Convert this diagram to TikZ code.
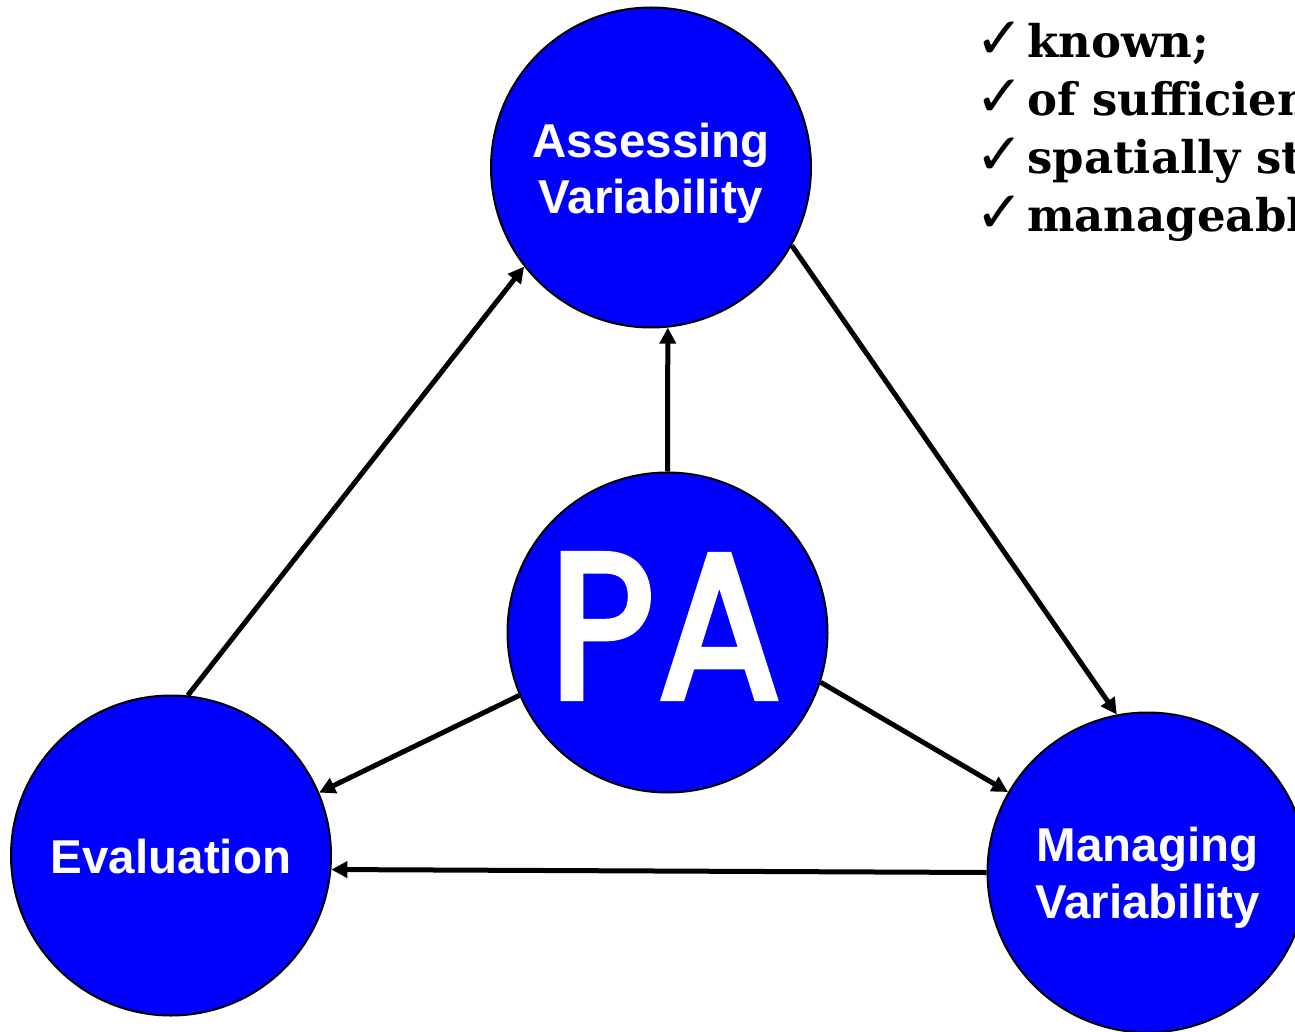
\documentclass[tikz,border=0pt]{standalone}
\usepackage{fontspec}
\usetikzlibrary{arrows.meta}
\setsansfont{Liberation Sans}
\newfontfamily\handfont[FakeBold=3.5]{Poppins}
\newfontfamily\listfont{DejaVu Serif}
\newfontfamily\tickfont{DejaVu Sans}
\definecolor{discblue}{RGB}{0,0,255}

\begin{document}
\begin{tikzpicture}[x=1pt,y=-1pt,
  disc/.style={circle, draw=black, line width=2pt, fill=discblue,
    minimum size=320pt, inner sep=0pt},
  disclabel/.style={text=white, align=center, inner sep=0pt,
    font=\sffamily\bfseries\fontsize{47.5}{56.5}\selectfont},
  flow/.style={line width=5pt,
    -{Triangle[length=16pt,width=16pt]}},
  tick/.style={anchor=base west, inner sep=0pt,
    font=\tickfont\fontsize{58}{58}\selectfont},
  point/.style={anchor=base west, inner sep=0pt,
    font=\listfont\bfseries\fontsize{45}{58}\selectfont}
]
\useasboundingbox (0,0) rectangle (1295,1032);
\clip (0,0) rectangle (1295,1032);

% the four discs
\node[disc] (assess) at (651,167.5) {};
\node[disc] (pa)     at (667.5,632.5) {};
\node[disc] (eval)   at (171,855.5) {};
\node[disc] (manage) at (1147.5,872.5) {};

% disc captions
\node[disclabel] (assessTxt) at (651,173) {Assessing\\Variability};
\node[disclabel] (evalTxt)   at (171,856.5) {Evaluation};
\node[disclabel] (manageTxt) at (1147.5,877.5) {Managing\\Variability};
\node[text=white, inner sep=0pt] (paTxt) at (665,626)
  {\scalebox{0.88}[1]{\handfont\fontsize{205}{240}\selectfont P\kern5pt A}};

% connectors
\draw[flow] (pa.north) -- (assess.-84.3);
\draw[flow] (eval.84.6) -- (assess.-142.9);
\draw[flow] (assess.-29.8) -- (manage.101.4);
\draw[flow] (pa.203.9) -- (eval.23.6);
\draw[flow] (pa.-18.3) -- (manage.150.3);
\draw[flow] (manage.west) -- (eval.-5.9);

% checklist
\node[tick] (t1) at (975,59)  {✓};
\node[tick] (t2) at (975,117) {✓};
\node[tick] (t3) at (975,175) {✓};
\node[tick] (t4) at (975,233) {✓};
\node[point] (p1) at (1027,58)  {known;};
\node[point] (p2) at (1027,116) {of sufficient};
\node[point] (p3) at (1027,174) {spatially structured};
\node[point] (p4) at (1027,232) {manageable};
\end{tikzpicture}
\end{document}
